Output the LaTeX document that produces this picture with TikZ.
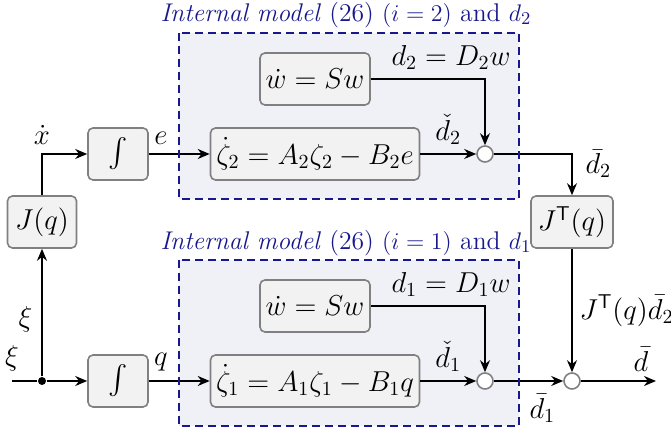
\documentclass[tikz,border=0pt]{standalone}
\usepackage{amsmath,amssymb}
\usetikzlibrary{positioning,arrows.meta}

\definecolor{modelfill}{RGB}{240,241,247}
\definecolor{modelblue}{RGB}{24,24,140}
\definecolor{boxfill}{RGB}{242,242,242}
\definecolor{boxline}{RGB}{128,128,128}

\tikzset{
  block/.style={draw=boxline,fill=boxfill,rounded corners=2.5pt,line width=0.8pt,
    minimum height=26pt,inner sep=1pt},
  sumpt/.style={circle,draw=boxline,fill=white,line width=0.8pt,minimum size=8pt,inner sep=0pt},
  modelborder/.style={draw=modelblue,line width=1pt,dash pattern=on 4pt off 2.5pt},
  modeltitle/.style={text=modelblue,font=\fontsize{12.8}{15}\selectfont},
}

\begin{document}
\begin{tikzpicture}[x=0.5pt,y=-0.5pt,>={Stealth[length=6pt,width=5pt]},line width=0.9pt,
  every node/.append style={font=\fontsize{14.5}{17}\selectfont}]
  \useasboundingbox (0,0) rectangle (671,432);

  % internal models
  \fill[modelfill] (179,33) rectangle (519,199);
  \fill[modelfill] (179,260) rectangle (519,426);
  \node[modeltitle] (title2) at (346,15) {\textit{Internal model} (26) $(i=2)$ and $d_2$};
  \node[modeltitle] (title1) at (346,243) {\textit{Internal model} (26) $(i=1)$ and $d_1$};

  % upper branch
  \node[block,minimum width=34.5pt] (J) at (42,222) {$J(q)$};
  \node[block,minimum width=30pt] (int2) at (118,154) {$\int$};
  \node[block,minimum width=55pt] (w2) at (315,79) {$\dot w = Sw$};
  \node[block,minimum width=104.5pt] (z2) at (315,154) {$\dot\zeta_2 = A_2\zeta_2 - B_2 e$};
  \node[sumpt] (s2) at (485,154) {};
  \node[block,minimum width=41pt] (JT) at (572,222) {$J^{\mathsf T}(q)$};

  % lower branch
  \coordinate (xi) at (12,381);
  \node[circle,fill,inner sep=0pt,minimum size=4pt] (br) at (42,381) {};
  \node[block,minimum width=30pt] (int1) at (118,381) {$\int$};
  \node[block,minimum width=55pt] (w1) at (315,306) {$\dot w = Sw$};
  \node[block,minimum width=104.5pt] (z1) at (315,381) {$\dot\zeta_1 = A_1\zeta_1 - B_1 q$};
  \node[sumpt] (s1) at (485,381) {};
  \node[sumpt] (s3) at (572,381) {};
  \coordinate (out) at (656,381);

  \draw[->] (J.north) |- node[pos=0.5,above=1pt] {$\dot x$} (int2.west);
  \draw[->] (int2) -- node[pos=0.2,above=1pt] {$e$} (z2);
  \draw[->] (z2) -- node[above=1pt] {$\check d_2$} (s2);
  \draw[->] (w2) -| node[pos=0.5,above=1pt,xshift=-17pt] {$d_2 = D_2 w$} (s2);
  \draw[->] (s2) -| node[pos=0.62,right=3pt] {$\bar d_2$} (JT.north);

  \draw (xi) -- node[pos=0,above=1pt] {$\xi$} (br);
  \draw[->] (br) -- (int1);
  \draw[->] (br) -- node[left=1pt,pos=0.45] {$\xi$} (J.south);
  \draw[->] (int1) -- node[pos=0.2,above=1pt] {$q$} (z1);
  \draw[->] (z1) -- node[above=1pt] {$\check d_1$} (s1);
  \draw[->] (w1) -| node[pos=0.5,above=1pt,xshift=-17pt] {$d_1 = D_1 w$} (s1);
  \draw[->] (s1) -- node[pos=0.7,below=3pt] {$\bar d_1$} (s3);
  \draw[->] (JT.south) -- node[right=0pt,pos=0.5,font=\fontsize{13.6}{16}\selectfont] {$J^{\mathsf T}(q)\bar d_2$} (s3);
  \draw[->] (s3) -- node[pos=0.8,above=1pt] {$\bar d$} (out);

  % dashed borders on top
  \draw[modelborder] (179,33) rectangle (519,199);
  \draw[modelborder] (179,260) rectangle (519,426);
\end{tikzpicture}
\end{document}
